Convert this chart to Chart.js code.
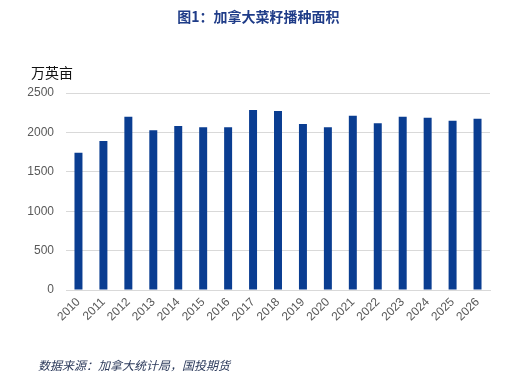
<!DOCTYPE html>
<html><head><meta charset="utf-8">
<script src="https://cdn.jsdelivr.net/npm/chart.js@4"></script>
<style>
html,body{margin:0;padding:0;background:#fff;}
#wrap{position:relative;width:517px;height:381px;overflow:hidden;}
#c{position:absolute;left:0;top:0;}
.t{position:absolute;white-space:nowrap;font-family:"Noto Sans CJK SC",sans-serif;}
#title{left:0;width:517px;text-align:center;top:6px;font-size:14px;font-weight:bold;color:#1f3c88;}
#unit{left:31px;top:62px;font-size:14px;color:#111;}
#src{left:38px;top:356px;font-size:12px;font-style:italic;color:#2d3b5c;}
</style></head>
<body><div id="wrap">
<canvas id="c" width="517" height="381"></canvas>
<div class="t" id="title">图1：加拿大菜籽播种面积</div>
<div class="t" id="unit">万英亩</div>
<div class="t" id="src">数据来源：加拿大统计局，国投期货</div>
</div>
<script>
const years = ["2010","2011","2012","2013","2014","2015","2016","2017","2018","2019","2020","2021","2022","2023","2024","2025","2026"];
const area = [1742,1891,2199,2027,2081,2065,2065,2284,2272,2106,2065,2212,2115,2199,2187,2148,2174];
const yTicks = [0,500,1000,1500,2000,2500];

new Chart(document.getElementById('c'), {
  type: 'bar',
  data: { labels: years, datasets: [{ data: area, backgroundColor: '#0a3d91', barPercentage: 0.32, categoryPercentage: 1.0 }] },
  options: {
    responsive: false, animation: false,
    layout: { padding: { left: 0, right: 27, top: 93, bottom: 0 } },
    plugins: { legend: { display: false }, tooltip: { enabled: false }, title: { display: false } },
    scales: {
      x: {
        grid: { display: false, drawTicks: false },
        border: { display: true, color: '#d9d9d9', width: 1 },
        ticks: { color: '#595959', font: { family: 'Liberation Sans, sans-serif', size: 12 }, maxRotation: 45, minRotation: 45, padding: 5, autoSkip: false },
        afterFit: s => { s.height = 91; }
      },
      y: {
        min: 0, max: 2500,
        afterBuildTicks: s => { s.ticks = yTicks.map(v => ({ value: v })); },
        grid: { color: '#d9d9d9', drawTicks: false },
        border: { display: false },
        ticks: { color: '#595959', font: { family: 'Liberation Sans, sans-serif', size: 12 }, padding: 12, callback: v => String(v) },
        afterFit: s => { s.width = 66; }
      }
    }
  }
});
</script>
</body></html>
